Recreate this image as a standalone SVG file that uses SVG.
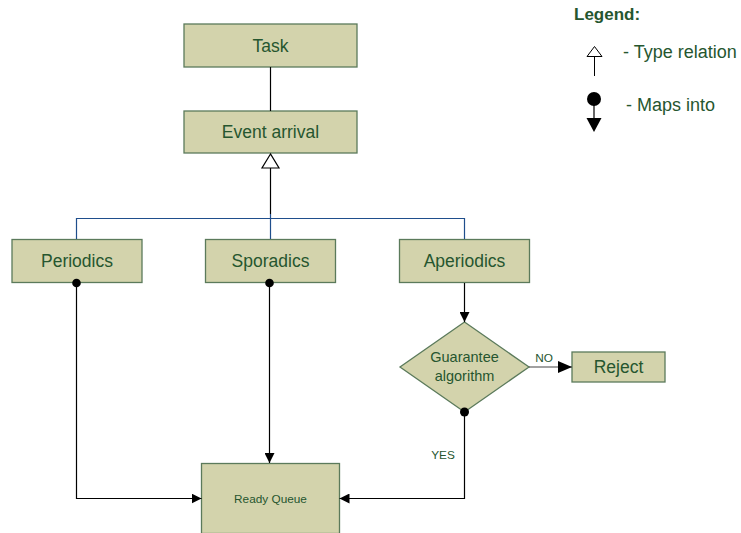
<svg xmlns="http://www.w3.org/2000/svg" width="741" height="533" viewBox="0 0 741 533">
<defs>
<style>
.node{fill:#d3d3ac;stroke:#5b7a5b;stroke-width:1.3}
.t{font-family:"Liberation Sans",Arial,sans-serif;fill:#26562f;text-anchor:middle}
.big{font-size:17.5px}
.mid{font-size:14.5px}
.sm{font-size:11.8px}
.ln{fill:none;stroke:#000;stroke-width:1.2}
.bl{fill:none;stroke:#1f4e8c;stroke-width:1.2}
.dot{fill:#000}
</style>
<marker id="ah" viewBox="0 0 10 10" refX="10" refY="5" markerWidth="10" markerHeight="10" markerUnits="userSpaceOnUse" orient="auto">
<path d="M0,0 L10,5 L0,10 z" fill="#000"/>
</marker>
<marker id="ahl" viewBox="0 0 14 12" refX="14" refY="6" markerWidth="14" markerHeight="12" markerUnits="userSpaceOnUse" orient="auto">
<path d="M0,0 L14,6 L0,12 z" fill="#000"/>
</marker>
</defs>
<rect width="741" height="533" fill="#fff"/>
<g id="task"><rect class="node" x="184" y="24" width="173" height="43"/><text class="t big" x="270.5" y="51.5">Task</text></g>
<g id="event"><rect class="node" x="184" y="111" width="173" height="42"/><text class="t big" x="270.5" y="138">Event arrival</text></g>
<g id="periodics"><rect class="node" x="12" y="239.5" width="130" height="43"/><text class="t big" x="77" y="267">Periodics</text></g>
<g id="sporadics"><rect class="node" x="205.5" y="239.5" width="130" height="43"/><text class="t big" x="270.5" y="267">Sporadics</text></g>
<g id="aperiodics"><rect class="node" x="399.5" y="239.5" width="130" height="43"/><text class="t big" x="464.5" y="267">Aperiodics</text></g>
<g id="guarantee"><polygon class="node" points="464.5,322 529,367 464.5,412 400,367"/><text class="t mid" x="464.5" y="362">Guarantee</text><text class="t mid" x="464.5" y="381">algorithm</text></g>
<g id="reject"><rect class="node" x="572" y="352" width="93" height="30"/><text class="t big" x="618.5" y="373">Reject</text></g>
<g id="ready"><rect class="node" x="201.5" y="463.5" width="138" height="70"/><text class="t sm" x="270.5" y="502.5">Ready Queue</text></g>
<g id="connectors">
<line class="ln" x1="270.5" y1="67" x2="270.5" y2="111"/>
<line class="ln" x1="270.5" y1="168" x2="270.5" y2="214"/>
<path class="bl" d="M76.5,239 V218.5 H464.5 V239"/>
<path class="bl" d="M270.5,214 V239"/>
<path class="ln" d="M76.5,283 V498.5 H201.5" marker-end="url(#ah)"/>
<path class="ln" d="M269.5,283 V463" marker-end="url(#ah)"/>
<path class="ln" d="M464.5,283 V322" marker-end="url(#ah)"/>
<path class="ln" d="M464.5,412 V498.5 H339.5" marker-end="url(#ah)"/>
<path d="M529,367 H572" fill="none" stroke="#444" stroke-width="1.2" marker-end="url(#ahl)"/>
<polygon points="270.5,154 262,168 279,168" fill="#fff" stroke="#000" stroke-width="1.2"/>
<circle class="dot" cx="76.5" cy="283" r="4.3"/>
<circle class="dot" cx="269.5" cy="283" r="4.3"/>
<circle class="dot" cx="464.5" cy="412" r="4.5"/>
<text class="t sm" x="544" y="362">NO</text>
<text class="t sm" x="443" y="458.5">YES</text>
</g>
<g id="legend">
<text class="t" x="574" y="19.5" style="font-size:17px;font-weight:bold;text-anchor:start">Legend:</text>
<polygon points="594.5,46.5 587,56.5 602,56.5" fill="#fff" stroke="#000" stroke-width="1"/>
<line x1="594.5" y1="56.5" x2="594.5" y2="76" stroke="#000" stroke-width="1"/>
<text class="t" x="623" y="58" style="font-size:18px;text-anchor:start">- Type relation</text>
<circle class="dot" cx="594" cy="99" r="7"/>
<line x1="594" y1="99" x2="594" y2="118" stroke="#000" stroke-width="1.2"/>
<polygon points="586.5,118 601.5,118 594,132" fill="#000"/>
<text class="t" x="626" y="111" style="font-size:18px;text-anchor:start">- Maps into</text>
</g>
</svg>
